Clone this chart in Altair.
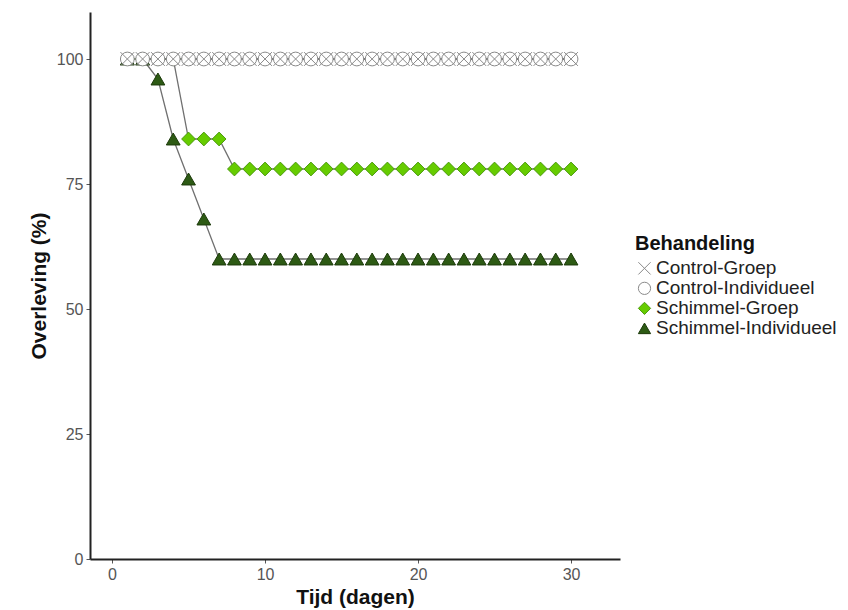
import altair as alt
import pandas as pd

days = [1, 2, 3, 4, 5, 6, 7, 8, 9, 10, 11, 12, 13, 14, 15, 16, 17, 18, 19, 20,
        21, 22, 23, 24, 25, 26, 27, 28, 29, 30]
control_groep = [100, 100, 100, 100, 100, 100, 100, 100, 100, 100, 100, 100, 100, 100, 100,
                 100, 100, 100, 100, 100, 100, 100, 100, 100, 100, 100, 100, 100, 100, 100]
control_individueel = [100, 100, 100, 100, 100, 100, 100, 100, 100, 100, 100, 100, 100, 100, 100,
                       100, 100, 100, 100, 100, 100, 100, 100, 100, 100, 100, 100, 100, 100, 100]
schimmel_groep = [100, 100, 100, 100, 84, 84, 84, 78, 78, 78, 78, 78, 78, 78, 78,
                  78, 78, 78, 78, 78, 78, 78, 78, 78, 78, 78, 78, 78, 78, 78]
schimmel_individueel = [100, 100, 96, 84, 76, 68, 60, 60, 60, 60, 60, 60, 60, 60, 60,
                        60, 60, 60, 60, 60, 60, 60, 60, 60, 60, 60, 60, 60, 60, 60]

series = ["Control-Groep", "Control-Individueel", "Schimmel-Groep", "Schimmel-Individueel"]
draw_order = [("Schimmel-Individueel", schimmel_individueel),
              ("Schimmel-Groep", schimmel_groep),
              ("Control-Individueel", control_individueel),
              ("Control-Groep", control_groep)]

rows = []
for k, (name, vals) in enumerate(draw_order):
    for d, v in zip(days, vals):
        rows.append({"Tijd": d, "Overleving": v, "Behandeling": name, "ord": k})
df = pd.DataFrame(rows)

shapes = ["M-1,-1L1,1M1,-1L-1,1", "circle", "diamond", "triangle-up"]
fills = ["#8a8a8a", "#ffffff", "#66cc00", "#2d5a14"]
strokes = ["#8a8a8a", "#8a8a8a", "#4c9a10", "#1c3a0a"]

font = "Liberation Sans"

x = alt.X("Tijd:Q", title="Tijd (dagen)",
          scale=alt.Scale(domain=[-1.44, 33.2], nice=False, zero=False),
          axis=alt.Axis(values=[0, 10, 20, 30], grid=False))
y = alt.Y("Overleving:Q", title="Overleving (%)",
          scale=alt.Scale(domain=[0, 109.4], nice=False),
          axis=alt.Axis(values=[0, 25, 50, 75, 100], grid=False))

lines = alt.Chart(df).mark_line(color="#707070", strokeWidth=1.3).encode(
    x=x, y=y, detail="Behandeling:N", order="Tijd:Q"
)

leg = alt.Legend(title="Behandeling", orient="none", legendX=545, legendY=222,
                 titleFontSize=20, titleFont=font, titleFontWeight="bold", titleColor="#111",
                 labelFontSize=19, labelFont=font, labelColor="#222", labelLimit=300,
                 symbolSize=150, rowPadding=0, clipHeight=16.7, symbolStrokeWidth=1,
                 labelOffset=2, titlePadding=6)

points = alt.Chart(df).mark_point(filled=True, size=190, strokeWidth=1, opacity=1).encode(
    x=x, y=y,
    shape=alt.Shape("Behandeling:N", scale=alt.Scale(domain=series, range=shapes), legend=leg),
    fill=alt.Fill("Behandeling:N", scale=alt.Scale(domain=series, range=fills), legend=leg),
    stroke=alt.Stroke("Behandeling:N", scale=alt.Scale(domain=series, range=strokes), legend=leg),
    order=alt.Order("ord:Q"),
)

chart = alt.layer(lines, points).properties(
    width=530, height=547,
    autosize=alt.AutoSizeParams(type="none"),
    padding={"left": 82, "top": 4, "right": 220, "bottom": 50},
).configure_view(stroke=None).configure_axis(
    labelFont=font, labelFontSize=16, labelColor="#555",
    titleFont=font, titleFontSize=21, titleFontWeight="bold", titleColor="#111",
    domainColor="#222", domainWidth=2, tickColor="#555", tickSize=4, labelPadding=3,
).configure_axisY(titlePadding=7).configure_axisX(titlePadding=4)

chart.save("out.html", embed_options={"renderer": "svg", "actions": False})
